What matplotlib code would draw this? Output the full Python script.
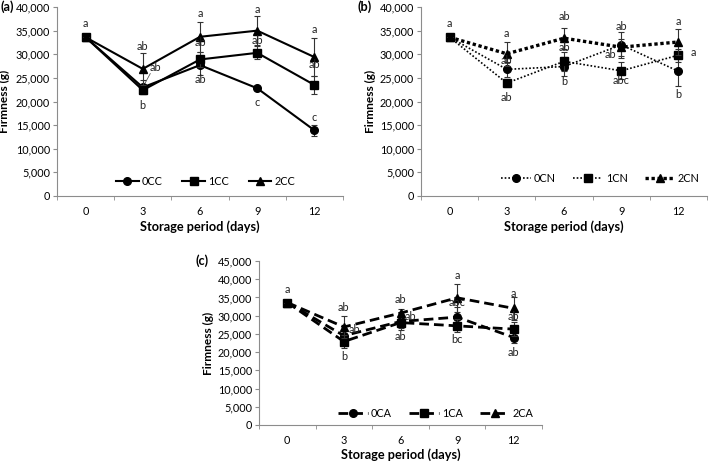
"""Firmness of fruit during storage: three panels (CC, CN, CA treatments)."""
import matplotlib
matplotlib.use("Agg")
import matplotlib.pyplot as plt
import numpy as np

plt.rcParams["font.family"] = ["Lato", "DejaVu Sans"]

DAYS = ["0", "3", "6", "9", "12"]

# panel (a) - CC
CC_NAMES = ["0CC", "1CC", "2CC"]
CC_MEAN = [
    [33600, 23000, 27700, 22800, 13900],
    [33600, 22400, 28900, 30300, 23500],
    [33600, 26900, 33700, 35000, 29400],
]
CC_ERR = [
    [0, 1500, 2000, 300, 1150],
    [0, 800, 1500, 1400, 1900],
    [0, 3400, 3200, 3100, 4000],
]
CC_LETTERS = [
    (0, 36500, "a"), (1, 31700, "ab"), (1.22, 27100, "ab"), (1, 19100, "b"),
    (2, 38700, "a"), (2, 32500, "ab"), (2, 24600, "ab"),
    (3, 39400, "a"), (3, 32900, "ab"), (3, 19700, "c"),
    (4, 35200, "a"), (4, 27900, "ab"), (4, 16700, "c"),
]

# panel (b) - CN
CN_NAMES = ["0CN", "1CN", "2CN"]
CN_MEAN = [
    [33600, 26800, 27400, 32000, 26400],
    [33600, 23900, 28500, 26500, 29800],
    [33600, 30100, 33400, 31500, 32600],
]
CN_ERR = [
    [0, 1600, 2100, 2700, 3200],
    [0, 800, 2000, 1800, 1400],
    [0, 2500, 2200, 1800, 2700],
]
CN_LETTERS = [
    (0, 36500, "a"), (1, 34400, "a"), (1, 28700, "ab"), (1, 20900, "ab"),
    (2, 37900, "ab"), (2, 31400, "ab"), (2, 24200, "b"),
    (3, 35900, "ab"), (2.82, 29900, "ab"), (3, 24400, "abc"),
    (4, 37000, "a"), (4.27, 30300, "a"), (4, 21500, "b"),
]

# panel (c) - CA
CA_NAMES = ["0CA", "1CA", "2CA"]
CA_MEAN = [
    [33600, 24500, 28400, 29600, 24000],
    [33600, 22900, 28100, 27200, 26300],
    [33600, 26900, 30700, 34900, 32000],
]
CA_ERR = [
    [0, 1500, 1800, 2900, 1600],
    [0, 1800, 2000, 1800, 2000],
    [0, 3100, 1200, 3900, 3200],
]
CA_LETTERS = [
    (0, 37200, "a"), (1, 32300, "ab"), (1.18, 26100, "ab"), (1, 18700, "b"),
    (2, 34300, "ab"), (2.17, 29900, "ab"), (2, 24300, "ab"),
    (3, 41000, "a"), (3, 33600, "abc"), (3, 23400, "bc"),
    (4, 36100, "a"), (4, 29900, "ab"), (4, 20000, "ab"),
]

MARKERS = ["o", "s", "^"]
AXIS_GREY = "#8c8c8c"
FS = 7.8          # tick labels, letters, legend
FS_X = 9.2        # x axis title
FS_Y = 8.6        # y axis title


def panel(ax, names, means, errs, letters, styles, ymax, tag, tag_x, lab_x, xlab_y,
          leg_xy, handlelen, colspace):
    x = np.arange(len(DAYS))
    for name, m, e, mk, st in zip(names, means, errs, MARKERS, styles):
        ax.errorbar(x, m, yerr=e, fmt="none", ecolor="#333333", elinewidth=0.8,
                    capsize=2.2, capthick=0.8)
        ax.plot(x, m, color="black", marker=mk, ms=5.5 if mk != "^" else 6,
                label=name, **st)
    for xi, yi, t in letters:
        ax.text(xi, yi, t, ha="center", va="center", fontsize=FS, color="#222222")

    ax.set_xlim(-0.5, len(DAYS) - 0.5)
    ax.set_ylim(0, ymax)
    ax.set_yticks(np.arange(0, ymax + 1, 5000))
    ax.set_yticklabels([f"{v:,}" for v in range(0, ymax + 1, 5000)])
    ax.set_xticks(x)
    ax.set_xticklabels(DAYS)
    ax.set_xticks(np.arange(-0.5, len(DAYS)), minor=True)
    ax.tick_params(axis="x", which="major", length=0, pad=7, labelsize=FS)
    ax.tick_params(axis="x", which="minor", length=3, color=AXIS_GREY, direction="out")
    ax.tick_params(axis="y", length=3, color=AXIS_GREY, labelsize=FS, pad=2)
    for s in ("top", "right"):
        ax.spines[s].set_visible(False)
    for s in ("left", "bottom"):
        ax.spines[s].set_color(AXIS_GREY)
    ax.set_xlabel("Storage period (days)", fontsize=FS_X, fontweight="bold")
    ax.xaxis.set_label_coords(0.5, xlab_y)
    ax.set_ylabel("Firmness (g)", fontsize=FS_Y, fontweight="bold", va="center")
    ax.yaxis.set_label_coords(lab_x, 0.5)
    ax.text(tag_x, 1.0, tag, transform=ax.transAxes, fontsize=FS_X, fontweight="bold",
            ha="left", va="center")
    ax.legend(loc="center", bbox_to_anchor=leg_xy, ncol=3, frameon=False,
              fontsize=FS, handlelength=handlelen, columnspacing=colspace,
              handletextpad=0.3)


fig = plt.figure(figsize=(7.09, 4.62), dpi=100)
ax_a = fig.add_axes([0.0804, 0.5758, 0.4034, 0.409])
ax_b = fig.add_axes([0.5938, 0.5758, 0.4034, 0.409])
ax_c = fig.add_axes([0.3653, 0.0801, 0.3992, 0.355])

solid = [dict(ls="-", lw=1.5)] * 3
dotted = [dict(ls=(0, (1, 1.2)), lw=1.2), dict(ls=(0, (1, 1.2)), lw=1.2),
          dict(ls=(0, (1, 0.8)), lw=2.4)]
dashed = [dict(ls=(0, (3.5, 1.8)), lw=2.0)] * 3

panel(ax_a, CC_NAMES, CC_MEAN, CC_ERR, CC_LETTERS, solid, 40000, "(a)",
      -0.196, -0.182, -0.128, (0.52, 0.076), 2.1, 1.8)
panel(ax_b, CN_NAMES, CN_MEAN, CN_ERR, CN_LETTERS, dotted, 40000, "(b)",
      -0.223, -0.178, -0.128, (0.627, 0.095), 2.7, 1.6)
panel(ax_c, CA_NAMES, CA_MEAN, CA_ERR, CA_LETTERS, dashed, 45000, "(c)",
      -0.226, -0.18, -0.142, (0.625, 0.07), 2.7, 1.6)

# leader line from the shifted "ab" label at day 3 in panel (a)
ax_a.plot([1.13, 1.04], [25900, 23900], color="#555555", lw=0.6)

fig.savefig("out.png", dpi=100)
